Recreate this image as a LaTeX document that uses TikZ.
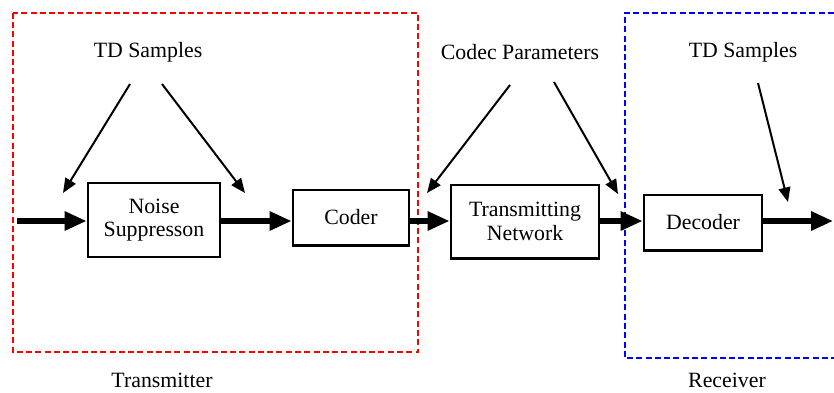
\documentclass[tikz,border=0pt]{standalone}
\usepackage{fontspec}
\setmainfont{Liberation Serif}
\newfontfamily\tmsfont{Liberation Serif}
\usetikzlibrary{arrows.meta}

\begin{document}
\begin{tikzpicture}[x=0.55pt, y=-0.55pt, font=\tmsfont\fontsize{12}{13}\selectfont,
  blk/.style={draw, line width=1.6pt, align=center, inner sep=0pt},
  flow/.style={line width=2.8pt, -{Triangle[length=12pt,width=10pt]}},
  feed/.style={line width=1.1pt, -{Triangle[length=8pt,width=6.5pt]}},
  zone/.style={line width=1.1pt, dash pattern=on 3.3pt off 1.8pt}]
  \useasboundingbox (0,0) rectangle (834,392);

  % transmitter and receiver areas
  \draw[zone, red] (13,12.7) rectangle (418,352);
  \draw[zone, blue] (834,12.7) -- (625,12.7) -- (625,358) -- (834,358);
  \node (tx) at (162,380) {Transmitter};
  \node (rx) at (727,380) {Receiver};

  % blocks
  \node[blk, minimum width=72.6pt, minimum height=40.7pt] (ns) at (154,220) {Noise\\Suppresson};
  \node[blk, minimum width=63.8pt, minimum height=30.3pt] (cod) at (351,217.5) {Coder};
  \node[blk, minimum width=81.4pt, minimum height=40.2pt] (net) at (525,221.5) {Transmitting\\Network};
  \node[blk, minimum width=64.9pt, minimum height=30.3pt] (dec) at (703,222.5) {Decoder};

  % main chain
  \coordinate (in) at (17,221);
  \coordinate (out) at (833,221);
  \draw[flow] (in) -- (in -| ns.west);
  \draw[flow] (ns.east |- in) -- (cod.west |- in);
  \draw[flow] (cod.east |- in) -- (net.west |- in);
  \draw[flow] (net.east |- in) -- (dec.west |- in);
  \draw[flow] (dec.east |- in) -- (out);

  % side inputs
  \node (lts) at (148,52) {TD Samples};
  \node (cp) at (520,52) {Codec Parameters};
  \node (rts) at (743,52) {TD Samples};
  \coordinate (l1) at (130,84);  \coordinate (l1e) at (63,193);
  \coordinate (l2) at (162,84);  \coordinate (l2e) at (245,193);
  \coordinate (c1) at (510,85);  \coordinate (c1e) at (427,193);
  \coordinate (c2) at (554,82);  \coordinate (c2e) at (618,194);
  \coordinate (r1) at (758,83);  \coordinate (r1e) at (788,202);
  \draw[feed] (l1) -- (l1e);
  \draw[feed] (l2) -- (l2e);
  \draw[feed] (c1) -- (c1e);
  \draw[feed] (c2) -- (c2e);
  \draw[feed] (r1) -- (r1e);
\end{tikzpicture}
\end{document}
